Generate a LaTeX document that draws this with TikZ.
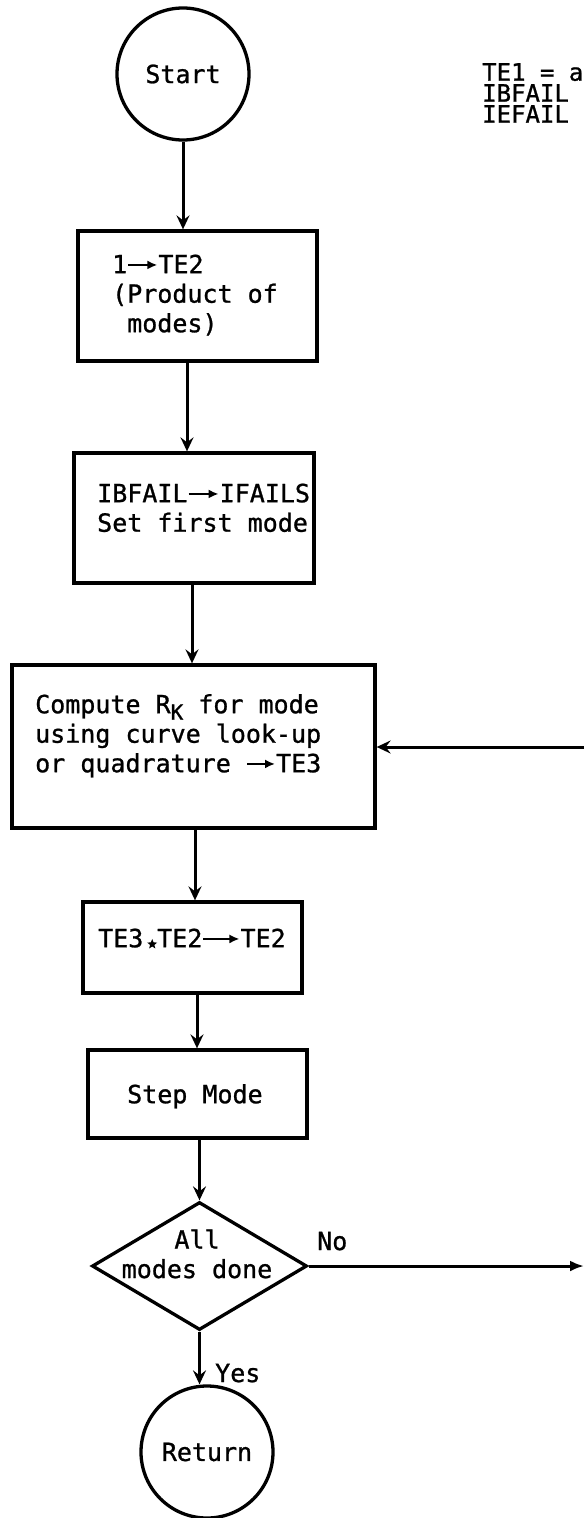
\documentclass[tikz,border=0pt]{standalone}
\usepackage{fontspec}
\setmonofont{DejaVu Sans Mono}[FakeBold=1.0]
\usetikzlibrary{arrows.meta,shapes.geometric}
\newcommand\txtarr[1]{\tikz[baseline=0pt]\draw[line width=2.2pt,-{Latex[length=10pt,width=9pt]}] (0,0.33em)--(#1,0.33em);}
\newcommand\txtstar{\tikz[baseline=0pt]{\path (0,0) rectangle (0.55em,0.1em); \node[star, star points=5, star point ratio=2.3, fill, inner sep=0pt, minimum size=0.42em] at (0.275em,0.2em) {};}}
\newcommand\subK{\raisebox{-0.26em}{\fontsize{21}{21}\selectfont K}}
\tikzset{
  fc/.style={draw, line width=3.3pt},
  boxnode/.style={fc, rectangle, inner sep=0pt},
  termnode/.style={fc, circle, inner sep=0pt, minimum size=132pt, font=\ttfamily\fontsize{25}{29.5}\selectfont},
  decnode/.style={fc, diamond, inner sep=0pt},
  txt/.style={inner sep=0pt, align=left, font=\ttfamily\fontsize{25}{29.5}\selectfont},
  note/.style={inner sep=0pt, align=left, font=\ttfamily\fontsize{24}{21}\selectfont},
  arr/.style={line width=3pt, -{Stealth[length=14pt,width=13pt,inset=5pt]}},
  arrf/.style={line width=3pt, -{Latex[length=14pt,width=11pt]}},
}
\begin{document}
\begin{tikzpicture}[x=1pt,y=-1pt]
\useasboundingbox (0,0) rectangle (584,1518);
% nodes
\node[termnode] (start) at (183,74) {Start};
\node[boxnode, minimum width=239pt, minimum height=130pt] (b1) at (197.5,296) {};
\node[boxnode, minimum width=240pt, minimum height=130pt] (b2) at (194,518) {};
\node[boxnode, minimum width=363pt, minimum height=163pt] (b3) at (193.5,746.5) {};
\node[boxnode, minimum width=219pt, minimum height=91pt] (b4) at (192.5,947.5) {};
\node[boxnode, minimum width=219pt, minimum height=88pt] (b5) at (197.5,1094) {};
\node[decnode, minimum width=215pt, minimum height=128pt] (dia) at (199.5,1266) {};
\node[termnode] (ret) at (207,1452) {Return};
% texts
\node[txt, anchor=north west] (t1) at (112,252.35) {\strut 1\txtarr{29pt}TE2\\(Product of\\\ modes)};
\node[txt, anchor=north west] (t2) at (97,481.35) {\strut IBFAIL\txtarr{30pt}IFAILS\\Set first mode};
\node[txt, anchor=north west] (t3) at (35,692.35) {\strut Compute R\subK\ for mode\\using curve look-up\\or quadrature \txtarr{28pt}TE3};
\node[txt, anchor=north west] (t4) at (98,926.35) {\strut TE3\txtstar TE2\txtarr{36pt}TE2};
\node[txt, anchor=north west] (t5) at (127,1082.35) {\strut Step Mode};
\node[txt, anchor=base, align=center] (t6) at (197,1278) {All\\modes done};
\node[note, anchor=north west] (t7) at (482,63) {TE1 = a\\IBFAIL\\IEFAIL};
\node[txt, anchor=base west] (no) at (317,1250) {No};
\node[txt, anchor=base west] (yes) at (215,1382) {Yes};
% coordinates at the cut right edge
\coordinate (noend) at (584,1266);
\coordinate (fb) at (584,747);
% connectors
\draw[arr] (start.south) -- (start.south |- b1.north);
\draw[arr] ([xshift=-10.5pt]b1.south) -- ([xshift=-10.5pt]b1.south |- b2.north);
\draw[arr] ([xshift=-2pt]b2.south) -- ([xshift=-2pt]b2.south |- b3.north);
\draw[arr] ([xshift=1.5pt]b3.south) -- ([xshift=1.5pt]b3.south |- b4.north);
\draw[arr] ([xshift=4.5pt]b4.south) -- ([xshift=4.5pt]b4.south |- b5.north);
\draw[arr] (dia.north |- b5.south) -- (dia.north);
\draw[arr] (dia.south) -- (dia.south |- ret.north);
\draw[arrf] (dia.east) -- (noend);
\draw[arr] (fb) -- (fb -| b3.east);
\end{tikzpicture}
\end{document}
